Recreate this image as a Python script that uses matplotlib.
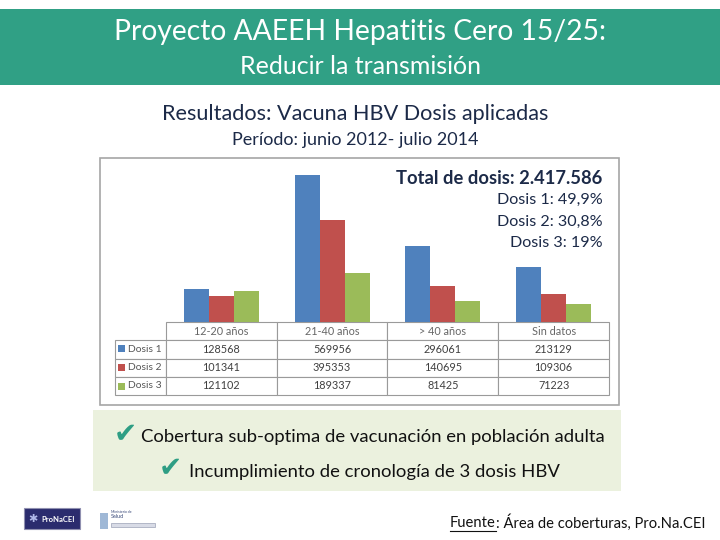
import matplotlib
matplotlib.use("Agg")
import matplotlib.pyplot as plt
from matplotlib.patches import Rectangle
import numpy as np

plt.rcParams['font.family'] = ['Lato', 'DejaVu Sans']

# ---- data ----
categories = ["12-20 años", "21-40 años", "> 40 años", "Sin datos"]
series_names = ["Dosis 1", "Dosis 2", "Dosis 3"]
dosis1 = [128568, 569956, 296061, 213129]
dosis2 = [101341, 395353, 140695, 109306]
dosis3 = [121102, 189337, 81425, 71223]
colors = ["#4f81bd", "#c0504d", "#9bbb59"]

W, H = 720, 540
fig = plt.figure(figsize=(W / 100, H / 100), dpi=100)
fig.patch.set_facecolor("white")

def fx(x):
    return x / W

def fy(y):
    return 1 - y / H

navy = "#1c2a48"
teal = "#2e9e84"

# header band
fig.patches.append(Rectangle((0, fy(85)), 1, (85 - 9) / H, transform=fig.transFigure,
                             facecolor="#30a085", edgecolor="none", zorder=-2))
fig.text(fx(360), fy(32), "Proyecto AAEEH Hepatitis Cero 15/25:", color="white",
         fontsize=20.3, ha="center", va="center")
fig.text(fx(360), fy(67), "Reducir la transmisión", color="white",
         fontsize=18, ha="center", va="center")

fig.text(fx(355), fy(114), "Resultados: Vacuna HBV Dosis aplicadas", color=navy,
         fontsize=15.6, ha="center", va="center")
fig.text(fx(355), fy(140), "Período: junio 2012- julio 2014", color=navy,
         fontsize=13, ha="center", va="center")

# chart frame
fig.patches.append(Rectangle((fx(100), fy(405)), (619 - 100) / W, (405 - 158) / H,
                             transform=fig.transFigure, facecolor="white",
                             edgecolor="#a6a6a6", linewidth=1.2, zorder=-2))

# bar axes
base_px, top_px = 322, 160
ax = fig.add_axes([fx(166), fy(base_px), (609 - 166) / W, (base_px - top_px) / H])
ax.set_zorder(3)
ax.set_facecolor("none")
x = np.arange(len(categories))
bw = 0.225
for i, (vals, c) in enumerate(zip([dosis1, dosis2, dosis3], colors)):
    ax.bar(x + (i - 1) * bw, vals, width=bw, color=c, edgecolor="none")
ax.set_xlim(-0.5, len(categories) - 0.5)
ax.set_ylim(0, max(dosis1) * 162 / 147)
ax.axis("off")

# data table
rows = [[""] + categories]
for name, vals in zip(series_names, [dosis1, dosis2, dosis3]):
    rows.append([name] + [str(v) for v in vals])
tbl = ax.table(cellText=rows, cellLoc="center",
               colWidths=[51, 111, 111, 111, 111],
               bbox=[(115 - 166) / 443, -(395 - 322) / 162, (609 - 115) / 443, (395 - 322) / 162])
tbl.auto_set_font_size(False)
for (r, c), cell in tbl.get_celld().items():
    cell.set_edgecolor("#9a9a9a")
    cell.set_linewidth(0.8)
    cell.get_text().set_fontsize(7.8)
    cell.get_text().set_color("#666666" if r == 0 else "#404040")
    if c == 0:
        cell._loc = "left"
        cell.get_text().set_ha("left")
        cell.PAD = 0.26
        cell.get_text().set_fontsize(7.4)
        cell.get_text().set_color("#555555")
    if r == 0 and c == 0:
        cell.visible_edges = ""
# legend keys in table
for i, c in enumerate(colors):
    ym = 348 + i * 19
    fig.patches.append(Rectangle((fx(118), fy(ym + 3.5)), 7 / W, 7 / H, transform=fig.transFigure,
                                 facecolor=c, edgecolor="none", zorder=5))

# totals text
fig.text(fx(602), fy(178), "Total de dosis: 2.417.586", color=navy, fontsize=13.2,
         fontweight="bold", ha="right", va="center")
pcts = ["Dosis 1: 49,9%", "Dosis 2: 30,8%", "Dosis 3: 19%"]
for i, t in enumerate(pcts):
    fig.text(fx(603), fy(200 + i * 21.5), t, color=navy, fontsize=11.6, ha="right", va="center")

# conclusions box
fig.patches.append(Rectangle((fx(93), fy(491)), (621 - 93) / W, (491 - 410) / H,
                             transform=fig.transFigure, facecolor="#ebf1de",
                             edgecolor="none", zorder=-2))
fig.text(fx(125), fy(434), "✔", color=teal, fontsize=20, ha="center", va="center",
         family=["DejaVu Sans"])
fig.text(fx(141), fy(437), "Cobertura sub-optima de vacunación en población adulta",
         color="#111111", fontsize=13.3, ha="left", va="center")
fig.text(fx(170), fy(468), "✔", color=teal, fontsize=20, ha="center", va="center",
         family=["DejaVu Sans"])
fig.text(fx(189), fy(472), "Incumplimiento de cronología de 3 dosis HBV",
         color="#111111", fontsize=13.3, ha="left", va="center")

# logos (simple)
fig.patches.append(Rectangle((fx(24), fy(529)), 56 / W, 21 / H, transform=fig.transFigure,
                             facecolor="#2b2c6e", edgecolor="#9090b0", linewidth=0.8, zorder=2))
fig.text(fx(58), fy(519), "ProNaCEI", color="white", fontsize=5.5, fontweight="bold",
         ha="center", va="center")
fig.text(fx(33), fy(519), "✱", color="#b0b8e8", fontsize=8, ha="center", va="center",
         family=["DejaVu Sans"])
fig.patches.append(Rectangle((fx(100), fy(529)), 8 / W, 16 / H, transform=fig.transFigure,
                             facecolor="#9fb8d6", edgecolor="none", zorder=2))
fig.text(fx(111), fy(512), "Ministerio de", color="#3a4a7a", fontsize=2.5, ha="left", va="center")
fig.text(fx(111), fy(517), "Salud", color="#3a4a7a", fontsize=4, ha="left", va="center")
fig.patches.append(Rectangle((fx(111), fy(527)), 44 / W, 4 / H, transform=fig.transFigure,
                             facecolor="#d8dbe6", edgecolor="#8890a8", linewidth=0.4, zorder=2))

# footer source
src_rest = fig.text(fx(705), fy(523), ": Área de coberturas, Pro.Na.CEI", color="#111111",
                    fontsize=10.6, ha="right", va="center")
fig.canvas.draw()
bb = src_rest.get_window_extent()
fuente = fig.text(bb.x0 / W, fy(523), "Fuente", color="#111111", fontsize=10.6,
                  ha="right", va="center")
fig.canvas.draw()
fb = fuente.get_window_extent()
fig.add_artist(plt.Line2D([fb.x0 / W, fb.x1 / W], [(fb.y0 - 1) / H, (fb.y0 - 1) / H],
                          color="#111111", linewidth=0.8, transform=fig.transFigure))

fig.savefig("out.png", dpi=100)
